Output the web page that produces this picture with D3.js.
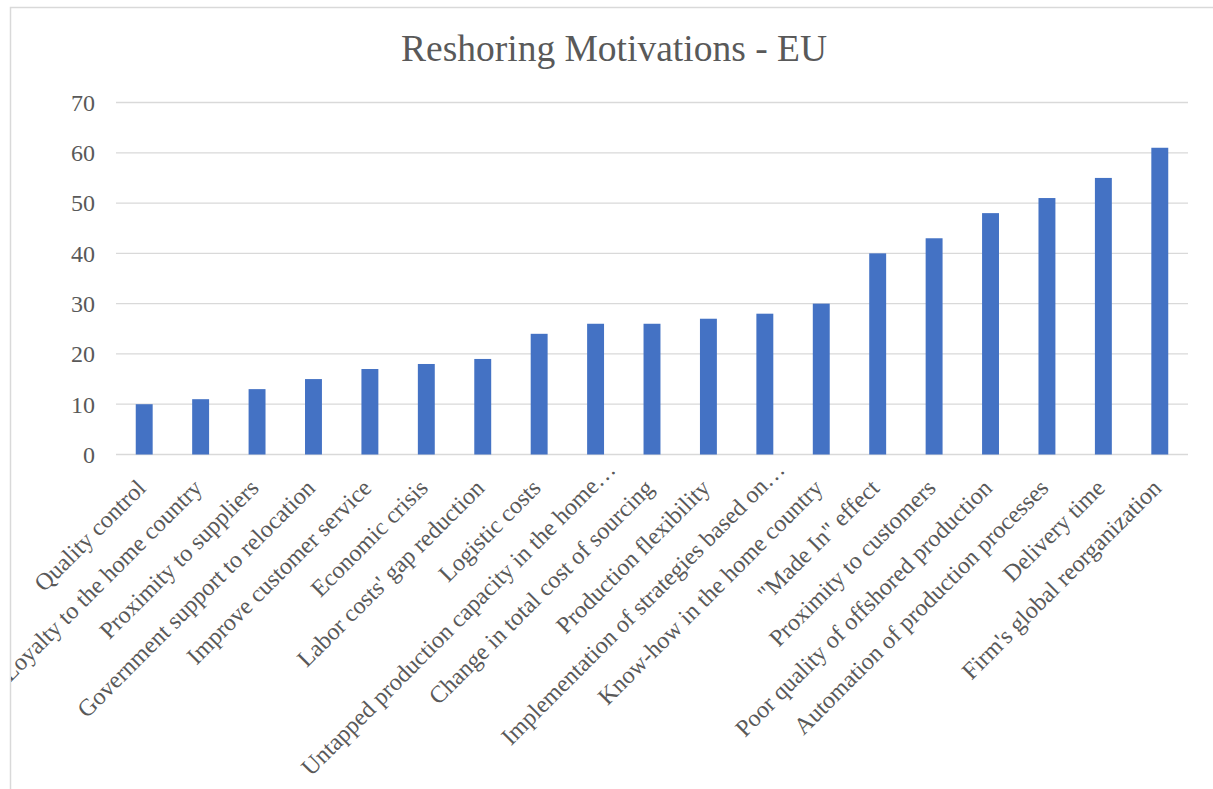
<!DOCTYPE html>
<html>
<head>
<meta charset="utf-8">
<script src="https://cdn.jsdelivr.net/npm/d3@7"></script>
<style>
  html, body { margin: 0; padding: 0; background: #fff; }
  svg { display: block; }
  text { font-family: "Liberation Serif", "Times New Roman", serif; fill: #595959; }
</style>
</head>
<body>
<svg id="chart" width="1213" height="789"></svg>
<script>
// Reshoring motivations reported by EU firms
const chartTitle = "Reshoring Motivations - EU";
const categories = [
  "Quality control",
  "Loyalty to the home country",
  "Proximity to suppliers",
  "Government support to relocation",
  "Improve customer service",
  "Economic crisis",
  "Labor costs' gap reduction",
  "Logistic costs",
  "Untapped production capacity in the home…",
  "Change in total cost of sourcing",
  "Production flexibility",
  "Implementation of strategies based on…",
  "Know-how in the home country",
  "\"Made In\" effect",
  "Proximity to customers",
  "Poor quality of offshored production",
  "Automation of production processes",
  "Delivery time",
  "Firm's global reorganization"
];
const values = [10, 11, 13, 15, 17, 18, 19, 24, 26, 26, 27, 28, 30, 40, 43, 48, 51, 55, 61];
const yTicks = [0, 10, 20, 30, 40, 50, 60, 70];

const svg = d3.select("#chart");

// chart area frame; everything inside is clipped to it
svg.append("defs").append("clipPath").attr("id", "frame")
  .append("rect").attr("x", 11).attr("y", 8).attr("width", 1240).attr("height", 820);

svg.append("rect")
  .attr("x", 10.5).attr("y", 7.5)
  .attr("width", 1240).attr("height", 820)
  .attr("fill", "#fff")
  .attr("stroke", "#d9d9d9")
  .attr("stroke-width", 1.5);

const root = svg.append("g").attr("clip-path", "url(#frame)");

const plot = { left: 116, right: 1188, top: 102.5, bottom: 454.5 };

const x = d3.scaleBand()
  .domain(categories)
  .range([plot.left, plot.right])
  .paddingInner(0.7)
  .paddingOuter(0.35);

const y = d3.scaleLinear()
  .domain([0, 70])
  .range([plot.bottom, plot.top]);

// horizontal gridlines
root.append("g")
  .selectAll("line")
  .data(yTicks)
  .join("line")
  .attr("x1", plot.left).attr("x2", plot.right)
  .attr("y1", d => y(d)).attr("y2", d => y(d))
  .attr("stroke", "#d9d9d9")
  .attr("stroke-width", 1.3);

// y tick labels
root.append("g")
  .selectAll("text")
  .data(yTicks)
  .join("text")
  .attr("x", 95)
  .attr("y", d => y(d))
  .attr("dy", "0.35em")
  .attr("text-anchor", "end")
  .style("font-size", "24px")
  .text(d => d);

// bars
root.append("g")
  .selectAll("rect")
  .data(values)
  .join("rect")
  .attr("x", (d, i) => x(categories[i]))
  .attr("width", x.bandwidth())
  .attr("y", d => y(d))
  .attr("height", d => y(0) - y(d))
  .attr("fill", "#4472c4");

// rotated category labels; shortened labels sit a little further along their baseline
root.append("g")
  .selectAll("text")
  .data(categories)
  .join("text")
  .attr("transform", d => `translate(${x(d) + x.bandwidth() / 2 - 3},${plot.bottom + 29}) rotate(-45)`)
  .attr("x", d => d.endsWith("…") ? 26 : 0)
  .attr("text-anchor", "end")
  .attr("dy", "0.35em")
  .style("font-size", "24px")
  .text(d => d);

// title
root.append("text")
  .attr("x", 614)
  .attr("y", 61)
  .attr("text-anchor", "middle")
  .style("font-size", "37.5px")
  .text(chartTitle);
</script>
</body>
</html>
